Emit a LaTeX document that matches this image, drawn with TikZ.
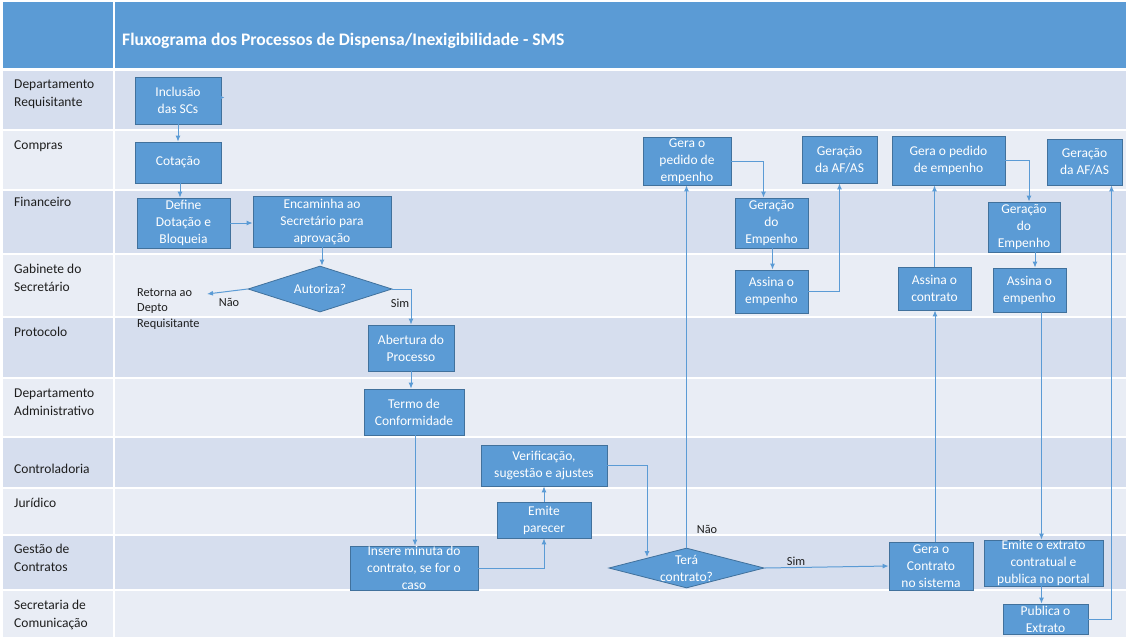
\documentclass[tikz,border=0pt]{standalone}
\usepackage{fontspec}
\setmainfont{Carlito}
\usetikzlibrary{arrows.meta,shapes.geometric}
\definecolor{hdr}{RGB}{91,155,213}
\definecolor{laneD}{RGB}{214,222,238}
\definecolor{laneL}{RGB}{233,237,245}
\definecolor{boxfill}{RGB}{91,155,213}
\definecolor{boxline}{RGB}{65,113,156}
\definecolor{conn}{RGB}{91,155,213}
\definecolor{lbl}{RGB}{30,30,30}
\tikzset{
  box/.style={draw=boxline, line width=0.8pt, fill=boxfill, text=white, align=center, inner sep=0pt,
    font=\fontsize{13.5}{17}\selectfont},
  dec/.style={diamond, draw=boxline, line width=0.8pt, fill=boxfill, text=white, align=center, inner sep=0pt,
    font=\fontsize{13.5}{17}\selectfont},
  lanelabel/.style={anchor=north west, align=left, inner sep=0pt, text=lbl, font=\fontsize{13.5}{17.5}\selectfont},
  small/.style={inner sep=0pt, text=lbl, font=\fontsize{12.3}{15.5}\selectfont},
  flow/.style={draw=conn, line width=1pt, -{Latex[length=6pt,width=5pt]}},
  plain/.style={draw=conn, line width=1pt}
}
\begin{document}
\begin{tikzpicture}[x=1pt,y=-1pt]
\useasboundingbox (0,0) rectangle (1126,638);
\fill[white] (0,0) rectangle (1126,638);
% header
\fill[hdr] (3,2) rectangle (113,68);
\fill[hdr] (115,2) rectangle (1126,68);
\node[anchor=west, text=white, inner sep=0pt, font=\fontsize{17.6}{20}\selectfont\bfseries] (title) at (122,41) {Fluxograma dos Processos de Dispensa/Inexigibilidade - SMS};
% lanes
\foreach \a/\b/\c in {70/130/laneD,130/190/laneL,190/254/laneD,254/317/laneL,317/378/laneD,378/437/laneL,437/488/laneD,488/535/laneL,535/590/laneD,590/638/laneL}{
  \fill[\c] (3,\a+1) rectangle (113,\b-1);
  \fill[\c] (115,\a+1) rectangle (1126,\b-1);
}
% lane labels
\node[lanelabel] (l1) at (14,80) {Departamento\\Requisitante};
\node[lanelabel] (l2) at (14,141) {Compras};
\node[lanelabel] (l3) at (14,197) {Financeiro};
\node[lanelabel] (l4) at (14,264) {Gabinete do\\Secretário};
\node[lanelabel] (l5) at (14,327) {Protocolo};
\node[lanelabel] (l6) at (14,389) {Departamento\\Administrativo};
\node[lanelabel] (l7) at (14,464) {Controladoria};
\node[lanelabel] (l8) at (14,498) {Jurídico};
\node[lanelabel] (l9) at (14,544) {Gestão de\\Contratos};
\node[lanelabel] (l10) at (14,600) {Secretaria de\\Comunicação};
% boxes
\node[box, minimum width=86, minimum height=47] (incl) at (178,100.5) {Inclusão\\das SCs};
\node[box, minimum width=86, minimum height=41] (cot) at (178,162.5) {Cotação};
\node[box, minimum width=93, minimum height=50] (def) at (183.5,223) {Define\\Dotação e\\Bloqueia};
\node[box, minimum width=138, minimum height=51] (enc) at (322,221.5) {Encaminha ao\\Secretário para\\aprovação};
\node[dec, minimum width=144, minimum height=46, aspect=3.1] (aut) at (320,289) {Autoriza?};
\node[small, anchor=north west, align=left] (ret) at (137,288) {Retorna ao\\Depto\\Requisitante};
\coordinate (retpt) at (207,294);
\node[box, minimum width=86, minimum height=46] (abe) at (411,348) {Abertura do\\Processo};
\node[box, minimum width=100, minimum height=46] (ter) at (414,412) {Termo de\\Conformidade};
\node[box, minimum width=128, minimum height=44] (ins) at (414,568) {Insere minuta do\\contrato, se for o\\caso};
\node[box, minimum width=94, minimum height=36] (emi) at (544,520) {Emite\\parecer};
\node[box, minimum width=126, minimum height=41] (ver) at (544,465.5) {Verificação,\\sugestão e ajustes};
\node[dec, minimum width=155, minimum height=40, aspect=3.9] (tera) at (686.5,568) {Terá\\contrato?};
\node[box, minimum width=88, minimum height=48] (gp1) at (687,161) {Gera o\\pedido de\\empenho};
\node[box, minimum width=73, minimum height=50] (ge1) at (771.5,223) {Geração\\do\\Empenho};
\node[box, minimum width=73, minimum height=43] (as1) at (771.5,291.5) {Assina o\\empenho};
\node[box, minimum width=75, minimum height=47] (af1) at (839.5,159.5) {Geração\\da AF/AS};
\node[box, minimum width=113, minimum height=49] (gp2) at (948.5,160.5) {Gera o pedido\\de empenho};
\node[box, minimum width=73, minimum height=43] (ac) at (934.5,288.5) {Assina o\\contrato};
\node[box, minimum width=84, minimum height=48] (gc) at (931,566) {Gera o\\Contrato\\no sistema};
\node[box, minimum width=72, minimum height=50] (ge2) at (1024,227) {Geração\\do\\Empenho};
\node[box, minimum width=73, minimum height=44] (as2) at (1029.5,290) {Assina o\\empenho};
\node[box, minimum width=75, minimum height=46] (af2) at (1084.5,162) {Geração\\da AF/AS};
\node[box, minimum width=119, minimum height=46] (ext) at (1043.5,563) {Emite o extrato\\contratual e\\publica no portal};
\node[box, minimum width=85, minimum height=30] (pub) at (1045.5,619) {Publica o\\Extrato};
% labels
\node[small] (nao1) at (229,302) {Não};
\node[small] (sim1) at (400,303) {Sim};
\node[small] (nao2) at (707,529) {Não};
\node[small] (sim2) at (796,561) {Sim};
% connectors
\draw[draw=conn, line width=1pt, -{Latex[length=4pt,width=4pt]}] (incl.east) ++(0,-3) coordinate (incltip) -- ++(3,0);
\draw[flow] (incl.south) -- (cot.north);
\draw[flow] ([xshift=2]cot.south) -- ([xshift=2]cot.south |- def.north);
\draw[flow] (def.east) -- (enc.west |- def.east);
\draw[flow] (enc.south) -- (enc.south |- aut.north);
\draw[flow] (aut.west) -- (retpt);
\draw[flow] (aut.east) -| (abe.north);
\draw[flow] (abe.south) -- (abe.south |- ter.north);
\draw[flow] ([xshift=1]ter.south) -- ([xshift=1]ter.south |- ins.north);
\draw[flow] (ins.east) -| (emi.south);
\draw[flow] (emi.north) -- (ver.south);
\coordinate (tv) at (647,557);
\draw[flow] (ver.east) -| (tv);
\draw[flow] (tera.north) -- (tera.north |- gp1.south);
\draw[flow] (tera.east) -- (gc.west);
\draw[flow] (gp1.east) -| ([xshift=-8]ge1.north);
\draw[flow] ([xshift=1]ge1.south) -- ([xshift=1]as1.north);
\draw[flow] (as1.east) -| (af1.south);
\draw[flow] ([xshift=4]gc.north) -- ([xshift=4]gc.north |- ac.south);
\draw[flow] (ac.north) -- (ac.north |- gp2.south);
\draw[flow] (gp2.east) -| ([xshift=5]ge2.north);
\draw[flow] ([xshift=11]ge2.south) -- ([xshift=11]ge2.south |- as2.north);
\draw[flow] ([xshift=-2]ext.north |- as2.south) -- ([xshift=-2]ext.north);
\draw[flow] ([xshift=-2]ext.south) -- ([xshift=-2]ext.south |- pub.north);
\draw[flow] (pub.east) -| ([xshift=27]af2.south);
\end{tikzpicture}
\end{document}
